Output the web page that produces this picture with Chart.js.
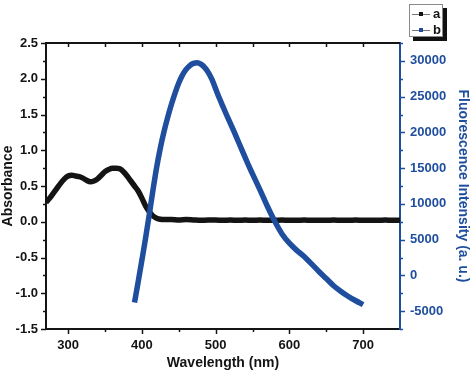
<!DOCTYPE html>
<html>
<head>
<meta charset="utf-8">
<script src="https://cdn.jsdelivr.net/npm/chart.js@4/dist/chart.umd.min.js"></script>
<style>
  html, body { margin: 0; padding: 0; background: #fff; }
  #wrap { width: 474px; height: 372px; }
</style>
</head>
<body>
<div id="wrap"><canvas id="chart"></canvas></div>
<script>
// Absorbance (a)
const absWavelength = [270, 275, 280, 285, 290, 295, 300, 305, 310, 315, 320, 325, 330, 335, 340, 345, 350, 355, 360, 365,
  370, 375, 380, 385, 390, 395, 400, 405, 410, 415, 420, 425, 430,
  440, 450, 460, 470, 480, 490, 500, 510, 520, 530, 540, 550, 560, 570, 580, 590, 600,
  610, 620, 630, 640, 650, 660, 670, 680, 690, 700, 710, 720, 730, 740, 750];
const absValues = [0.27, 0.33, 0.40, 0.47, 0.54, 0.60, 0.64, 0.65, 0.64, 0.63, 0.61, 0.58, 0.56, 0.57, 0.60, 0.65, 0.70, 0.73, 0.75, 0.75,
  0.74, 0.70, 0.64, 0.57, 0.50, 0.43, 0.33, 0.22, 0.14, 0.08, 0.05, 0.035, 0.03,
  0.03, 0.025, 0.03, 0.025, 0.02, 0.025, 0.025, 0.02, 0.025, 0.02, 0.025, 0.02, 0.025, 0.02, 0.02, 0.025, 0.02,
  0.02, 0.025, 0.02, 0.02, 0.02, 0.025, 0.02, 0.02, 0.025, 0.02, 0.02, 0.02, 0.025, 0.02, 0.02];

// Fluorescence intensity (b)
const flWavelength = [390, 395, 400, 405, 410, 415, 420, 425, 430, 435, 440, 445, 450, 455, 460, 465, 470, 475, 480, 485,
  490, 495, 500, 505, 510, 515, 520, 525, 530, 535, 540, 545, 550,
  560, 570, 580, 590, 600, 610, 620, 630, 640, 650, 660, 670, 680, 690, 700];
const flValues = [-3800, -900, 2100, 5200, 8500, 11900, 15100, 17800, 20100, 22100, 23900, 25500, 26900, 28000, 28800, 29350, 29650, 29750, 29550, 29100,
  28400, 27400, 26100, 24800, 23600, 22400, 21250, 20100, 18900, 17700, 16500, 15300, 14200,
  12000, 9700, 7600, 5800, 4500, 3500, 2650, 1600, 550, -450, -1450, -2250, -2950, -3550, -4100];

// Axis ticks
const xTicks = [300, 400, 500, 600, 700];
const xMinor = [350, 450, 550, 650];
const yTicks = [-1.5, -1.0, -0.5, 0.0, 0.5, 1.0, 1.5, 2.0, 2.5];
const yMinor = [-1.25, -0.75, -0.25, 0.25, 0.75, 1.25, 1.75, 2.25];
const y1Ticks = [-5000, 0, 5000, 10000, 15000, 20000, 25000, 30000];
const y1Minor = [-7500, -2500, 2500, 7500, 12500, 17500, 22500, 27500, 32500];

const BLACK = "#141414";
const BLUE = "#1f4e9e";
const FONT = "'Liberation Sans', Arial, sans-serif";

function toPoints(xs, ys) {
  return xs.map((x, i) => ({ x: x, y: ys[i] }));
}

// frame: top border, tick marks and the little boxed legend
const frameTicks = {
  id: "frameTicks",
  afterDraw(chart) {
    const { ctx, chartArea: a, scales } = chart;
    const x = scales.x, y = scales.y, y1 = scales.y1;
    ctx.save();
    ctx.lineCap = "butt";

    ctx.strokeStyle = BLACK;
    ctx.lineWidth = 2;
    ctx.beginPath();
    ctx.moveTo(a.left - 1, a.top);
    ctx.lineTo(a.right, a.top);
    ctx.stroke();

    function line(x0, y0, x1, y1_) {
      ctx.beginPath();
      ctx.moveTo(x0, y0);
      ctx.lineTo(x1, y1_);
      ctx.stroke();
    }

    ctx.lineWidth = 1.5;
    // x ticks: outward on the bottom, inward on the top
    xTicks.concat(xMinor).forEach((v) => {
      const px = Math.round(x.getPixelForValue(v)) + 0.5;
      const len = xTicks.includes(v) ? 5 : 3;
      line(px, a.bottom, px, a.bottom + len);
      line(px, a.top, px, a.top + 4);
    });
    // left ticks
    yTicks.concat(yMinor).forEach((v) => {
      const py = Math.round(y.getPixelForValue(v)) + 0.5;
      const len = yTicks.includes(v) ? 5 : 3;
      line(a.left - len, py, a.left, py);
    });
    // right ticks
    ctx.strokeStyle = BLUE;
    y1Ticks.concat(y1Minor).forEach((v) => {
      const py = Math.round(y1.getPixelForValue(v)) + 0.5;
      const len = y1Ticks.includes(v) ? 5 : 3;
      line(a.right, py, a.right + len, py);
    });

    // legend
    const bx = 409, by = 4, bw = 34, bh = 33;
    ctx.fillStyle = "#111";
    ctx.fillRect(bx + 4, by + 4, bw, bh);
    ctx.fillStyle = "#fff";
    ctx.fillRect(bx, by, bw, bh);
    ctx.strokeStyle = "#8a8a8a";
    ctx.lineWidth = 1;
    ctx.strokeRect(bx + 0.5, by + 0.5, bw - 1, bh - 1);

    ctx.font = "bold 13px " + FONT;
    ctx.textBaseline = "middle";
    ctx.textAlign = "left";
    chart.data.datasets.slice().reverse().forEach((ds, i) => {
      const ly = by + 10 + i * 16;
      ctx.strokeStyle = "#777";
      ctx.lineWidth = 1;
      line(bx + 3, ly + 0.5, bx + 21, ly + 0.5);
      ctx.fillStyle = ds.borderColor;
      ctx.fillRect(bx + 10, ly - 2, 4, 4);
      ctx.fillStyle = BLACK;
      ctx.fillText(ds.label, bx + 24, ly);
    });
    ctx.restore();
  }
};

const ctx = document.getElementById("chart").getContext("2d");
const chart = new Chart(ctx, {
  type: "line",
  data: {
    datasets: [
      {
        label: "b",
        data: toPoints(flWavelength, flValues),
        yAxisID: "y1",
        borderColor: BLUE,
        borderWidth: 5.5,
        pointRadius: 0,
        cubicInterpolationMode: "monotone",
        fill: false,
        order: 0,
      },
      {
        label: "a",
        data: toPoints(absWavelength, absValues),
        yAxisID: "y",
        borderColor: BLACK,
        borderWidth: 5.5,
        pointRadius: 0,
        cubicInterpolationMode: "monotone",
        fill: false,
        order: 1,
      },
    ],
  },
  options: {
    responsive: true,
    maintainAspectRatio: false,
    animation: false,
    layout: { padding: { top: 43, left: 0, right: 0, bottom: 0 } },
    plugins: {
      legend: { display: false },
      tooltip: { enabled: false },
    },
    scales: {
      x: {
        type: "linear",
        min: 270,
        max: 750,
        afterBuildTicks: (s) => { s.ticks = xTicks.map((v) => ({ value: v })); },
        afterFit: (s) => { s.height = 43; },
        grid: { display: false, drawTicks: false },
        border: { display: true, color: BLACK, width: 2 },
        ticks: {
          padding: 9,
          color: BLACK,
          font: { family: FONT, size: 13, weight: "bold" },
          maxRotation: 0,
        },
        title: {
          display: true,
          text: "Wavelength (nm)",
          color: BLACK,
          padding: { top: 0, bottom: 0 },
          font: { family: FONT, size: 14, weight: "bold" },
        },
      },
      y: {
        position: "left",
        min: -1.5,
        max: 2.5,
        afterBuildTicks: (s) => { s.ticks = yTicks.map((v) => ({ value: v })); },
        afterFit: (s) => { s.width = 46; },
        grid: { display: false, drawTicks: false },
        border: { display: true, color: BLACK, width: 2 },
        ticks: {
          padding: 8,
          color: BLACK,
          font: { family: FONT, size: 13, weight: "bold" },
          callback: (v) => v.toFixed(1),
        },
        title: {
          display: true,
          text: "Absorbance",
          color: BLACK,
          padding: { top: 0, bottom: 0 },
          font: { family: FONT, size: 14, weight: "bold" },
        },
      },
      y1: {
        position: "right",
        min: -7500,
        max: 32500,
        afterBuildTicks: (s) => { s.ticks = y1Ticks.map((v) => ({ value: v })); },
        afterFit: (s) => { s.width = 74; },
        grid: { display: false, drawTicks: false },
        border: { display: true, color: BLUE, width: 2 },
        ticks: {
          padding: 10,
          color: BLUE,
          font: { family: FONT, size: 13, weight: "bold" },
          callback: (v) => String(v),
        },
        title: {
          display: true,
          text: "Fluorescence Intensity (a. u.)",
          color: BLUE,
          padding: { top: 3, bottom: 0 },
          font: { family: FONT, size: 14, weight: "bold" },
        },
      },
    },
  },
  plugins: [frameTicks],
});
</script>
</body>
</html>
